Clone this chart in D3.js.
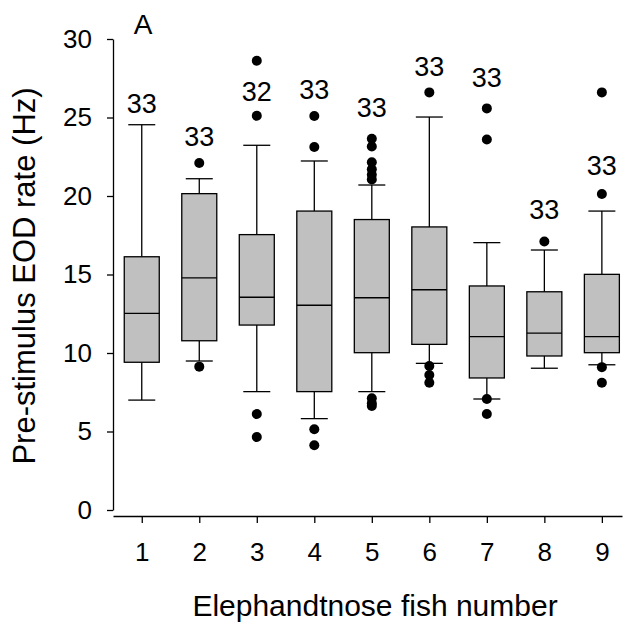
<!DOCTYPE html>
<html><head><meta charset="utf-8">
<script src="https://cdn.jsdelivr.net/npm/d3@7"></script>
<style>body{margin:0;background:#fff}svg{display:block}text{font-family:"Liberation Sans",Arial,sans-serif}</style>
</head><body>
<script>
const fish = [1,2,3,4,5,6,7,8,9];
const whiskerLow = [7.0, 9.49, 7.54, 5.82, 7.54, 9.34, 7.07, 9.03, 9.25];
const q1 = [9.41, 10.78, 11.78, 7.54, 10.02, 10.55, 8.41, 9.81, 10.02];
const median = [12.53, 14.78, 13.55, 13.04, 13.52, 14.03, 11.04, 11.27, 11.04];
const q3 = [16.13, 20.15, 17.54, 19.04, 18.5, 18.03, 14.27, 13.9, 15.01];
const whiskerHigh = [24.54, 21.1, 23.23, 22.23, 20.7, 25.03, 17.03, 16.56, 19.04];
const outliers = [
  [],
  [22.1, 9.13],
  [28.62, 25.11, 6.11, 4.65],
  [25.1, 23.12, 5.14, 4.12],
  [23.65, 23.15, 22.15, 21.7, 21.35, 21.05, 7.11, 6.8, 6.62],
  [26.6, 9.17, 8.6, 8.1],
  [25.58, 23.6, 7.07, 6.11],
  [17.1],
  [26.6, 20.13, 9.1, 8.11]
];
const nLabels = ["33","33","32","33","33","33","33","33","33"];
const labelAt = [25.92, 23.78, 26.7, 26.8, 25.65, 28.28, 27.56, 19.15, 21.97];
const yTicks = [0,5,10,15,20,25,30];

const W = 629, H = 623;
const svg = d3.select("body").append("svg").attr("width", W).attr("height", H);
const x = d3.scaleLinear().domain([0.5, 9.35]).range([113, 622]);
const y = d3.scaleLinear().domain([0, 30]).range([510, 39]);
const boxW = 35, capW = 27;

// y axis
const ya = svg.append("g").attr("transform", "translate(113,0)")
  .call(d3.axisLeft(y).tickValues(yTicks).tickSize(6).tickSizeOuter(0).tickPadding(15));
ya.selectAll("text").style("font-size", "26px").attr("fill", "#000");
ya.selectAll("line,path").attr("stroke", "#000").attr("stroke-width", 1.3);

// x axis
const xa = svg.append("g").attr("transform", "translate(0,516)")
  .call(d3.axisBottom(x).tickValues(fish).tickFormat(d3.format("d")).tickSize(7).tickSizeOuter(0).tickPadding(20));
xa.selectAll("text").style("font-size", "26px").attr("fill", "#000");
xa.selectAll("line,path").attr("stroke", "#000").attr("stroke-width", 1.3);

const g = svg.append("g");
fish.forEach((f, i) => {
  const cx = x(f);
  const line = (x1, y1, x2, y2) => g.append("line")
    .attr("x1", x1).attr("y1", y1).attr("x2", x2).attr("y2", y2)
    .attr("stroke", "#000").attr("stroke-width", 1.3);
  line(cx, y(whiskerHigh[i]), cx, y(q3[i]));
  line(cx, y(q1[i]), cx, y(whiskerLow[i]));
  line(cx - capW/2, y(whiskerHigh[i]), cx + capW/2, y(whiskerHigh[i]));
  line(cx - capW/2, y(whiskerLow[i]), cx + capW/2, y(whiskerLow[i]));
  g.append("rect").attr("x", cx - boxW/2).attr("y", y(q3[i]))
    .attr("width", boxW).attr("height", y(q1[i]) - y(q3[i]))
    .attr("fill", "#c0c0c0").attr("stroke", "#000").attr("stroke-width", 1.3);
  line(cx - boxW/2, y(median[i]), cx + boxW/2, y(median[i]));
  outliers[i].forEach(v => {
    g.append("circle").attr("cx", cx).attr("cy", y(v)).attr("r", 5).attr("fill", "#000");
  });
  g.append("text").attr("x", cx).attr("y", y(labelAt[i])).attr("dy", "0.36em")
    .attr("text-anchor", "middle").style("font-size", "27px").text(nLabels[i]);
});

svg.append("text").attr("x", 143).attr("y", 24).attr("dy", "0.36em")
  .attr("text-anchor", "middle").style("font-size", "28px").text("A");

svg.append("text").attr("x", 375).attr("y", 616)
  .attr("text-anchor", "middle").style("font-size", "30px").text("Elephandtnose fish number");

svg.append("text").attr("transform", "translate(35,276) rotate(-90)")
  .attr("text-anchor", "middle").style("font-size", "31px").text("Pre-stimulus EOD rate (Hz)");
</script>
</body></html>
